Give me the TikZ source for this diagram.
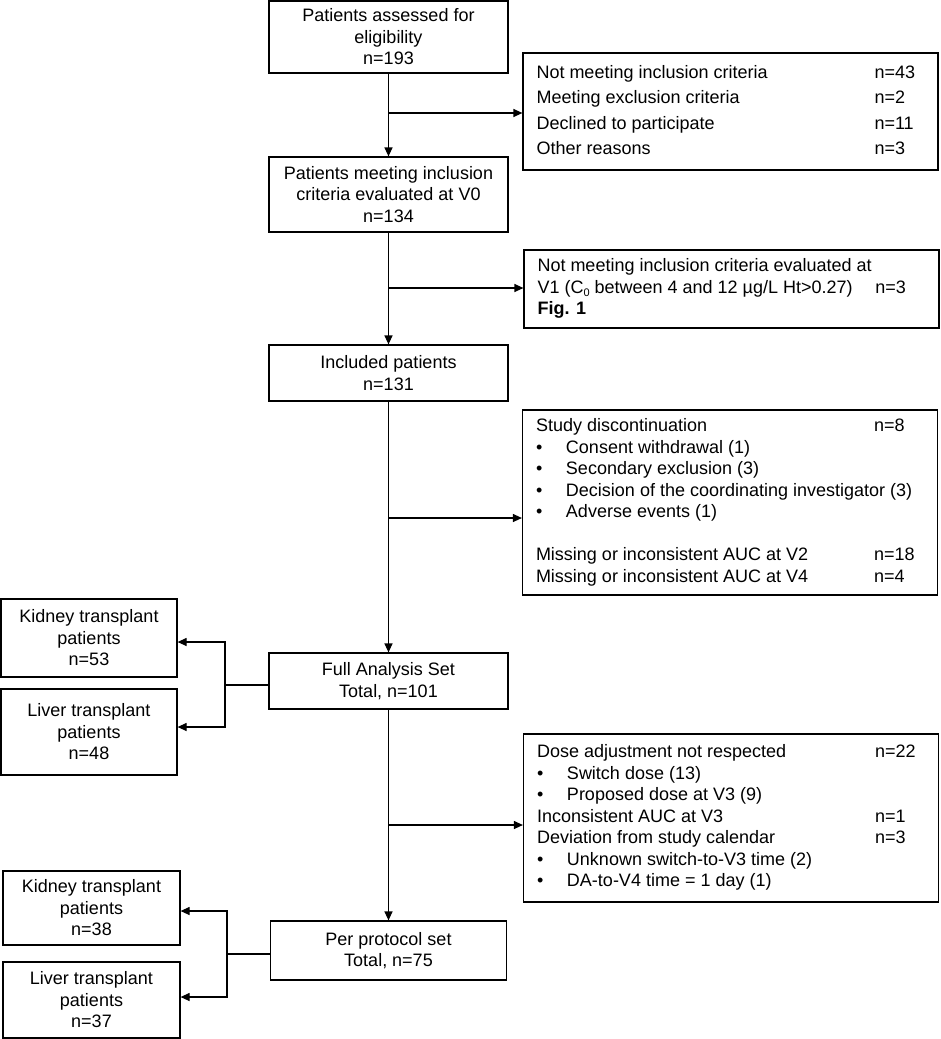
\documentclass[tikz,border=0pt]{standalone}
\usepackage{fontspec}
\setmainfont{Liberation Sans}
\usetikzlibrary{arrows.meta}
\newcommand\rw[2]{\makebox[338pt][l]{#1}\makebox[50pt][l]{#2}}
\newcommand\bl[1]{\makebox[30pt][l]{•}#1}
\newcommand\csub{C\raisebox{-3pt}{\fontsize{11}{11}\selectfont 0}}
\begin{document}
\begin{tikzpicture}[x=1pt,y=-1pt,
  box/.style={draw, line width=1.2pt, inner sep=0pt, align=center,
    font=\fontsize{18}{21.5}\selectfont},
  mainbox/.style={box, minimum width=239pt},
  sidebox/.style={box, minimum width=176pt},
  infobox/.style={box, minimum width=415pt},
  arr/.style={line width=1.2pt, -{Triangle[length=9pt,width=8pt]}},
  ln/.style={line width=1.2pt}]
\useasboundingbox (0,0) rectangle (941,1039);

% main column
\node[mainbox, minimum height=72pt] (b1) at (388.5,37) {Patients assessed for\\eligibility\\n=193};
\node[mainbox, minimum height=75pt] (b2) at (388.5,194.5) {Patients meeting inclusion\\criteria evaluated at V0\\n=134};
\node[mainbox, minimum height=56pt] (b3) at (388.5,373) {Included patients\\n=131};
\node[mainbox, minimum height=56pt] (fas) at (388.5,681) {Full Analysis Set\\Total, n=101};
\node[mainbox, minimum width=236pt, minimum height=59pt] (pps) at (388.5,950.5) {Per protocol set\\Total, n=75};

% right info boxes
\node[infobox, minimum height=117pt] (r1) at (730.5,111.5) {{\renewcommand\arraystretch{1.19}%
\begin{tabular}{@{}l@{}}
\rw{Not meeting inclusion criteria}{n=43}\\
\rw{Meeting exclusion criteria}{n=2}\\
\rw{Declined to participate}{n=11}\\
\rw{Other reasons}{n=3}
\end{tabular}}};
\node[infobox, minimum height=78pt] (r2) at (731.5,289) {\begin{tabular}{@{}l@{}}
\rw{Not meeting inclusion criteria evaluated at}{}\\
\rw{V1 (\csub{} between 4 and 12 µg/L Ht>0.27)}{n=3}\\
\rw{\textbf{Fig. 1}}{}
\end{tabular}};
\node[infobox, minimum height=185pt] (r3) at (730,502.5) {\begin{tabular}{@{}l@{}}
\rw{Study discontinuation}{n=8}\\
\rw{\bl{Consent withdrawal (1)}}{}\\
\rw{\bl{Secondary exclusion (3)}}{}\\
\rw{\bl{Decision of the coordinating investigator (3)}}{}\\
\rw{\bl{Adverse events (1)}}{}\\
\rw{}{}\\
\rw{Missing or inconsistent AUC at V2}{n=18}\\
\rw{Missing or inconsistent AUC at V4}{n=4}
\end{tabular}};
\node[infobox, minimum height=168pt] (r4) at (731,818) {\begin{tabular}{@{}l@{}}
\rw{Dose adjustment not respected}{n=22}\\
\rw{\bl{Switch dose (13)}}{}\\
\rw{\bl{Proposed dose at V3 (9)}}{}\\
\rw{Inconsistent AUC at V3}{n=1}\\
\rw{Deviation from study calendar}{n=3}\\
\rw{\bl{Unknown switch-to-V3 time (2)}}{}\\
\rw{\bl{DA-to-V4 time = 1 day (1)}}{}
\end{tabular}};

% left boxes
\node[sidebox, minimum height=78pt] (k1) at (89,638) {Kidney transplant\\patients\\n=53};
\node[sidebox, minimum height=86pt] (l1) at (89,732) {Liver transplant\\patients\\n=48};
\node[sidebox, minimum width=177pt, minimum height=74pt] (k2) at (91.5,908) {Kidney transplant\\patients\\n=38};
\node[sidebox, minimum width=177pt, minimum height=76pt] (l2) at (91.5,1000) {Liver transplant\\patients\\n=37};

% main vertical flow
\draw[arr] (b1) -- (b2);
\draw[arr] (b2) -- (b3);
\draw[arr] (b3) -- (fas);
\draw[arr] (fas) -- (pps);

% side arrows
\coordinate (j1) at (388.5,113);
\coordinate (j2) at (388.5,288);
\coordinate (j3) at (388.5,518);
\coordinate (j4) at (388.5,825);
\draw[arr] (j1) -- (j1 -| r1.west);
\draw[arr] (j2) -- (j2 -| r2.west);
\draw[arr] (j3) -- (j3 -| r3.west);
\draw[arr] (j4) -- (j4 -| r4.west);

% branches from FAS
\coordinate (f0) at (225,685);
\coordinate (fa) at (225,642);
\coordinate (fb) at (225,727);
\draw[ln] (fas.west |- f0) -- (f0);
\draw[arr] (f0) -- (fa) -- (fa -| k1.east);
\draw[arr] (f0) -- (fb) -- (fb -| l1.east);

% branches from PPS
\coordinate (p0) at (227,954);
\coordinate (pa) at (227,911);
\coordinate (pb) at (227,997);
\draw[ln] (pps.west |- p0) -- (p0);
\draw[arr] (p0) -- (pa) -- (pa -| k2.east);
\draw[arr] (p0) -- (pb) -- (pb -| l2.east);
\end{tikzpicture}
\end{document}
